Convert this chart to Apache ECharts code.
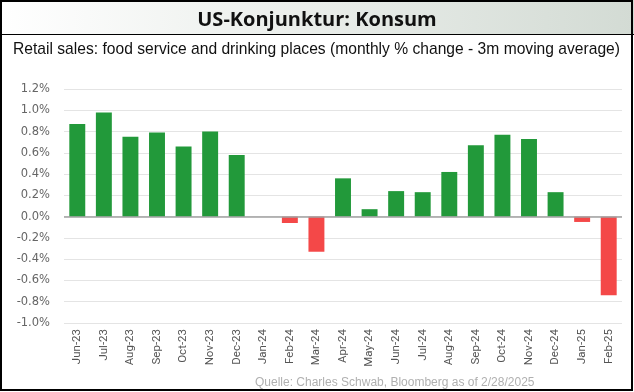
<!DOCTYPE html>
<html><head><meta charset="utf-8">
<script src="https://cdn.jsdelivr.net/npm/echarts@6/dist/echarts.min.js"></script>
<style>html,body{margin:0;padding:0;background:#fff}#c{width:634px;height:392px}</style>
</head><body><div id="c"></div>
<script>
const months = ['Jun-23','Jul-23','Aug-23','Sep-23','Oct-23','Nov-23','Dec-23','Jan-24','Feb-24','Mar-24','Apr-24','May-24','Jun-24','Jul-24','Aug-24','Sep-24','Oct-24','Nov-24','Dec-24','Jan-25','Feb-25'];
const values = [0.87, 0.98, 0.75, 0.79, 0.66, 0.80, 0.58, 0, -0.06, -0.33, 0.36, 0.07, 0.24, 0.23, 0.42, 0.67, 0.77, 0.73, 0.23, -0.05, -0.74];
const titleText = 'US-Konjunktur: Konsum';
const subtitleText = 'Retail sales: food service and drinking places (monthly % change - 3m moving average)';
const sourceText = 'Quelle: Charles Schwab, Bloomberg as of 2/28/2025';
const yMin = -1.0, yMax = 1.2, yStep = 0.2;

const subFont = '17px "Liberation Sans", Arial, sans-serif';
const ctx = document.createElement('canvas').getContext('2d');
ctx.font = subFont;
const subW = ctx.measureText(subtitleText).width;
const subScale = 607 / subW;

const chart = echarts.init(document.getElementById('c'), null, {renderer:'canvas'});
chart.setOption({
  animation:false,
  backgroundColor:'#fff',
  graphic:[
    {type:'rect', left:0, top:0, shape:{width:634, height:35}, z:0,
     style:{fill:new echarts.graphic.LinearGradient(0,0,1,0,[{offset:0,color:'#ffffff'},{offset:1,color:'#d3dbd4'}])}},
    {type:'line', shape:{x1:0,y1:34.5,x2:634,y2:34.5}, style:{stroke:'#000',lineWidth:1}, z:1},
    {type:'rect', shape:{x:1,y:1,width:631,height:389}, style:{fill:null,stroke:'#000',lineWidth:2}, z:2},
    {type:'text', x:13, y:41, scaleX:subScale, originX:0, z:3,
     style:{text:subtitleText, font:subFont, fill:'#111', textVerticalAlign:'top'}}
  ],
  title:[
    {text:titleText, left:'center', top:5, textStyle:{fontFamily:'Open Sans, Liberation Sans, sans-serif', fontWeight:'bold', fontSize:20, color:'#111'}},
    {text:sourceText, left:250, top:372, textStyle:{fontFamily:'Liberation Sans, Arial, sans-serif', fontWeight:'normal', fontSize:12, color:'#b0b0b0'}}
  ],
  grid:{left:64, right:12, top:89, bottom:69, containLabel:false, outerBoundsMode:'none'},
  xAxis:{
    type:'category', data:months,
    axisLine:{show:false, onZero:false},
    axisTick:{show:false},
    axisLabel:{rotate:90, margin:6, color:'#555', fontFamily:'Roboto, sans-serif', fontSize:11.5, interval:0}
  },
  yAxis:{
    type:'value', min:yMin, max:yMax, interval:yStep,
    axisLine:{show:false}, axisTick:{show:false},
    splitLine:{lineStyle:{color:'#e4e4e4'}},
    axisLabel:{formatter:v=>(Math.round(v*10)/10).toFixed(1)+'%', color:'#666', fontFamily:'DejaVu Sans, sans-serif', fontSize:11.5, margin:14}
  },
  series:[{
    type:'bar', data:values.map(v=>({value:v, itemStyle:{color: v<0 ? '#f44848' : '#22993a'}})),
    barWidth:'60%',
    markLine:{silent:true, symbol:'none', label:{show:false}, z:5,
      lineStyle:{color:'#a0a0a0', width:1.5, type:'solid'}, data:[{yAxis:0}]}
  }]
});
</script>
</body></html>
